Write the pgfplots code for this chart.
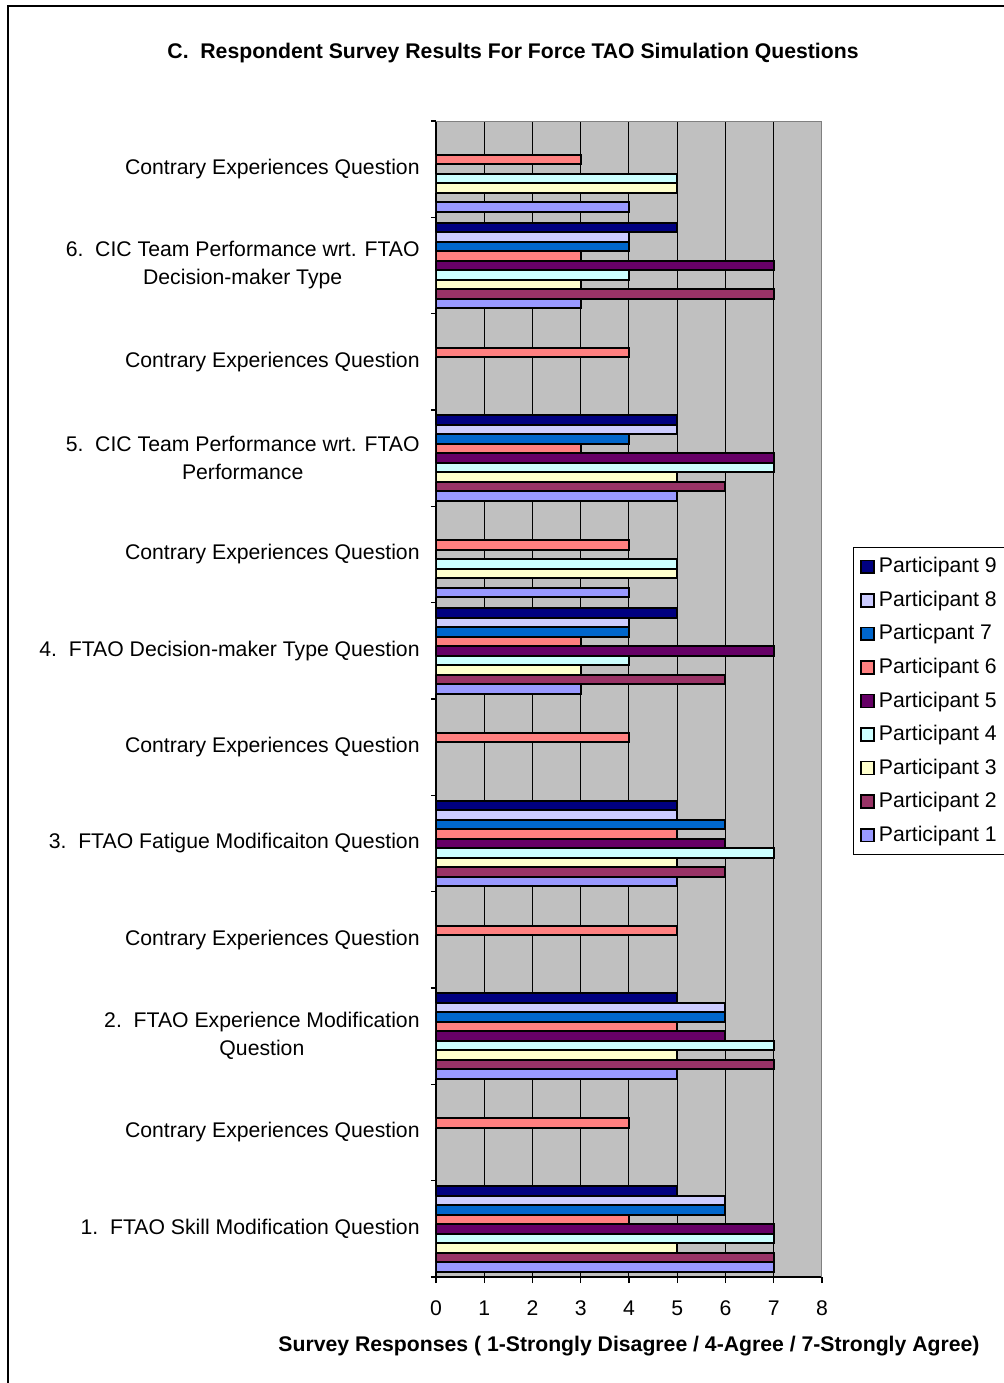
\documentclass[border=0pt]{standalone}
\usepackage{fontspec}
\setmainfont{Liberation Sans}
\usepackage{pgfplots}
\pgfplotsset{compat=1.18}
\definecolor{pA}{HTML}{9999FF}
\definecolor{pB}{HTML}{993366}
\definecolor{pC}{HTML}{FFFFCC}
\definecolor{pD}{HTML}{CCFFFF}
\definecolor{pE}{HTML}{660066}
\definecolor{pF}{HTML}{FF8080}
\definecolor{pG}{HTML}{0066CC}
\definecolor{pH}{HTML}{CCCCFF}
\definecolor{pI}{HTML}{000080}
\definecolor{bg}{HTML}{C0C0C0}
\begin{document}
\fontsize{10.6}{12.7}\selectfont
\begin{tikzpicture}
\useasboundingbox (0,0) rectangle (501.5pt,-691.5pt);
\draw[line width=0.6pt] (4pt,-3pt) rectangle (530pt,-720pt);
\node[font=\fontsize{10.6}{12.7}\selectfont\bfseries] at (256.5pt,-26.5pt) {C.\ \ Respondent Survey Results For Force TAO Simulation Questions};
\begin{axis}[
  at={(218pt,-638.5pt)}, anchor=south west,
  width=193pt, height=578pt, scale only axis,
  xmin=0, xmax=8, ymin=-0.5, ymax=11.5,
  axis background/.style={fill=bg},
  axis x line*=bottom, axis y line*=left,
  axis line style={black, line width=0.6pt},
  every outer x axis line/.append style={-}, every outer y axis line/.append style={-},
  xtick={0,...,8},
  xtick style={black, line width=0.6pt},
  tick align=outside, major tick length=3pt,
  extra x ticks={1,...,7}, extra x tick labels={},
  extra x tick style={grid=major, major tick length=0pt},
  grid style={black, line width=0.5pt},
  ytick={0,...,11},
  ytick style={draw=none},
  extra y ticks={-0.5,0.5,...,11.5}, extra y tick labels={},
  extra y tick style={ytick style={draw=black, line width=0.6pt}, major tick length=2.5pt},
  yticklabels={
    {1.\ \ FTAO Skill Modification Question},
    {Contrary Experiences Question},
    {2.\ \ FTAO Experience Modification\\Question},
    {Contrary Experiences Question},
    {3.\ \ FTAO Fatigue Modificaiton Question},
    {Contrary Experiences Question},
    {4.\ \ FTAO Decision-maker Type Question},
    {Contrary Experiences Question},
    {5.\ \ CIC Team Performance wrt. FTAO\\Performance},
    {Contrary Experiences Question},
    {6.\ \ CIC Team Performance wrt. FTAO\\Decision-maker Type},
    {Contrary Experiences Question}},
  yticklabel style={align=center, anchor=east, inner sep=0pt, xshift=-5pt, font=\fontsize{10.6}{14}\selectfont},
  xticklabel style={anchor=center, inner sep=0pt, yshift=-15.5pt+3pt, font=\fontsize{10.6}{12.7}\selectfont},
  /pgf/number format/assume math mode=true,
  xlabel={\bfseries Survey Responses ( 1-Strongly Disagree / 4-Agree / 7-Strongly Agree)},
  xlabel style={at={(axis description cs:0.5,0)}, anchor=center, yshift=-34.5pt, font=\fontsize{10.6}{12.7}\selectfont},
  bar width=0.0986,
  every axis plot/.append style={xbar, draw=black, line width=1pt},
  legend style={at={(1.0803,0.6315)}, anchor=north west, draw=black, line width=0.5pt,
    font=\fontsize{10.6}{12.7}\selectfont, row sep=3.5pt, inner xsep=3.5pt, inner ysep=3pt,
    cells={anchor=west}},
  legend image code/.code={\draw[#1, line width=0.8pt] (0pt,-3.2pt) rectangle (6.4pt,3.2pt);},
  reverse legend,
]
\addplot[fill=pA, bar shift=-0.3944] coordinates {(7,0)(5,2)(5,4)(3,6)(4,7)(5,8)(3,10)(4,11)};
\addplot[fill=pB, bar shift=-0.2958] coordinates {(7,0)(7,2)(6,4)(6,6)(6,8)(7,10)};
\addplot[fill=pC, bar shift=-0.1972] coordinates {(5,0)(5,2)(5,4)(3,6)(5,7)(5,8)(3,10)(5,11)};
\addplot[fill=pD, bar shift=-0.0986] coordinates {(7,0)(7,2)(7,4)(4,6)(5,7)(7,8)(4,10)(5,11)};
\addplot[fill=pE, bar shift=0] coordinates {(7,0)(6,2)(6,4)(7,6)(7,8)(7,10)};
\addplot[fill=pF, bar shift=0.0986] coordinates {(4,0)(4,1)(5,2)(5,3)(5,4)(4,5)(3,6)(4,7)(3,8)(4,9)(3,10)(3,11)};
\addplot[fill=pG, bar shift=0.1972] coordinates {(6,0)(6,2)(6,4)(4,6)(4,8)(4,10)};
\addplot[fill=pH, bar shift=0.2958] coordinates {(6,0)(6,2)(5,4)(4,6)(5,8)(4,10)};
\addplot[fill=pI, bar shift=0.3944] coordinates {(5,0)(5,2)(5,4)(5,6)(5,8)(5,10)};
\legend{Participant 1, Participant 2, Participant 3, Participant 4, Participant 5, Participant 6, Particpant 7, Participant 8, Participant 9}
\draw[gray, line width=0.6pt] (rel axis cs:0,1) -- (rel axis cs:1,1) -- (rel axis cs:1,0);
\end{axis}
\end{tikzpicture}
\end{document}
